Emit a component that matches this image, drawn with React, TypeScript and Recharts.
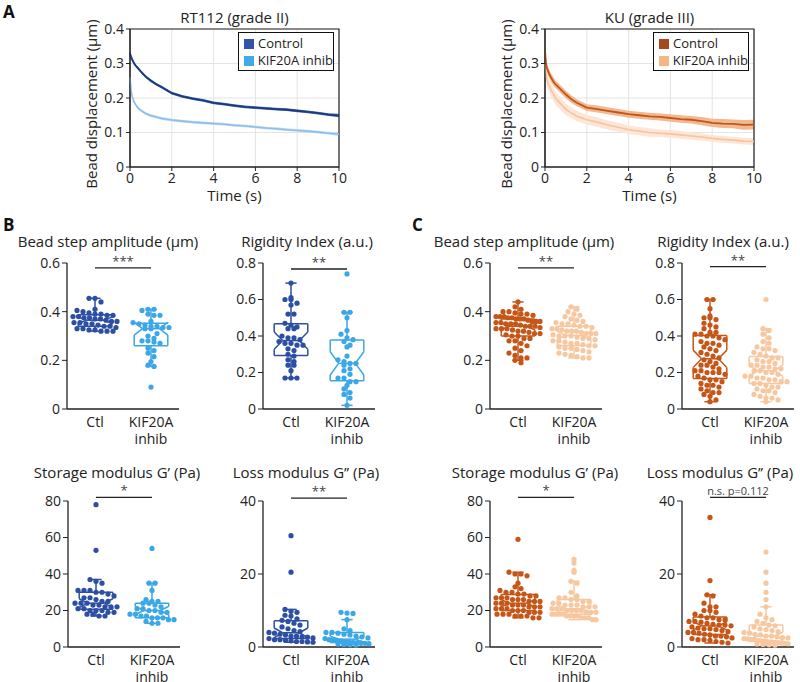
import {
  ComposedChart,
  Line,
  Area,
  XAxis,
  YAxis,
  CartesianGrid,
  ReferenceArea,
  ScatterChart,
  Scatter,
  ReferenceLine,
} from "recharts";

const FONT = "'Open Sans', sans-serif";
const INK = "#222";

// ---- panel A: bead displacement over time ----
const timeS = [0, 0.05, 0.1, 0.2, 0.3, 0.4, 0.5, 0.75, 1, 1.25, 1.5, 2, 2.5, 3, 3.5, 4, 4.5, 5, 5.5, 6, 6.5, 7, 7.5, 8, 8.5, 9, 9.5, 10];
const rt112Ctl = [0.33, 0.32, 0.312, 0.3, 0.292, 0.285, 0.278, 0.262, 0.25, 0.24, 0.232, 0.214, 0.205, 0.198, 0.193, 0.186, 0.182, 0.178, 0.174, 0.172, 0.17, 0.168, 0.166, 0.163, 0.16, 0.156, 0.152, 0.149];
const rt112Kif = [0.26, 0.225, 0.205, 0.188, 0.178, 0.17, 0.165, 0.155, 0.149, 0.145, 0.141, 0.136, 0.133, 0.13, 0.128, 0.126, 0.124, 0.121, 0.119, 0.116, 0.113, 0.111, 0.108, 0.106, 0.104, 0.101, 0.098, 0.095];
const rt112CtlErr = [0.006, 0.005, 0.005, 0.005, 0.004, 0.004, 0.004, 0.004, 0.004, 0.004, 0.004, 0.004, 0.004, 0.004, 0.004, 0.004, 0.004, 0.004, 0.004, 0.004, 0.004, 0.004, 0.004, 0.004, 0.004, 0.004, 0.004, 0.005];
const rt112KifErr = [0.006, 0.005, 0.005, 0.005, 0.004, 0.004, 0.004, 0.004, 0.004, 0.004, 0.004, 0.004, 0.004, 0.004, 0.004, 0.004, 0.004, 0.004, 0.004, 0.004, 0.004, 0.004, 0.004, 0.004, 0.004, 0.004, 0.004, 0.005];
const kuCtl = [0.335, 0.3, 0.285, 0.27, 0.258, 0.248, 0.24, 0.225, 0.21, 0.197, 0.187, 0.172, 0.168, 0.163, 0.158, 0.153, 0.15, 0.147, 0.145, 0.142, 0.139, 0.137, 0.133, 0.128, 0.126, 0.125, 0.122, 0.123];
const kuKif = [0.3, 0.27, 0.25, 0.235, 0.222, 0.212, 0.2, 0.183, 0.167, 0.157, 0.148, 0.137, 0.13, 0.122, 0.115, 0.108, 0.104, 0.1, 0.098, 0.096, 0.093, 0.09, 0.087, 0.083, 0.08, 0.078, 0.075, 0.074];
const kuCtlErr = [0.012, 0.012, 0.012, 0.012, 0.012, 0.012, 0.011, 0.011, 0.011, 0.011, 0.01, 0.01, 0.01, 0.01, 0.01, 0.01, 0.01, 0.01, 0.01, 0.011, 0.011, 0.011, 0.012, 0.012, 0.013, 0.013, 0.014, 0.014];
const kuKifErr = [0.02, 0.02, 0.02, 0.02, 0.02, 0.019, 0.019, 0.018, 0.017, 0.016, 0.015, 0.014, 0.014, 0.013, 0.013, 0.012, 0.012, 0.012, 0.011, 0.011, 0.011, 0.011, 0.01, 0.01, 0.01, 0.01, 0.01, 0.01];

// ---- panels B / C: per-cell values ----
const bStepCtl = [0.455, 0.455, 0.44, 0.41, 0.405, 0.4, 0.395, 0.39, 0.39, 0.385, 0.385, 0.38, 0.38, 0.375, 0.375, 0.37, 0.37, 0.365, 0.36, 0.36, 0.355, 0.355, 0.35, 0.35, 0.345, 0.34, 0.34, 0.335, 0.33, 0.33, 0.325, 0.325, 0.32, 0.32, 0.32];
const bStepKif = [0.41, 0.41, 0.405, 0.39, 0.385, 0.385, 0.36, 0.355, 0.35, 0.345, 0.34, 0.34, 0.335, 0.335, 0.33, 0.33, 0.31, 0.3, 0.29, 0.28, 0.28, 0.275, 0.27, 0.25, 0.24, 0.23, 0.215, 0.195, 0.18, 0.175, 0.09];
const bRigCtl = [0.69, 0.61, 0.6, 0.6, 0.58, 0.57, 0.52, 0.52, 0.47, 0.46, 0.45, 0.44, 0.44, 0.4, 0.39, 0.39, 0.38, 0.37, 0.36, 0.36, 0.35, 0.35, 0.33, 0.32, 0.3, 0.29, 0.27, 0.26, 0.24, 0.24, 0.21, 0.17, 0.17, 0.17];
const bRigKif = [0.74, 0.53, 0.53, 0.5, 0.43, 0.41, 0.39, 0.38, 0.37, 0.35, 0.34, 0.29, 0.27, 0.26, 0.25, 0.25, 0.24, 0.22, 0.21, 0.19, 0.17, 0.17, 0.15, 0.15, 0.13, 0.11, 0.09, 0.08, 0.06, 0.02];
const bStoCtl = [78, 53, 37, 36, 35, 31, 31, 31, 30, 30, 29, 28, 27, 27, 26, 25, 25, 24, 24, 24, 23, 23, 22, 22, 22, 21, 21, 20, 20, 20, 19, 19, 18, 18, 17, 17];
const bStoKif = [54, 35, 35, 31, 26, 25, 25, 24, 24, 23, 22, 21, 21, 20, 20, 19, 19, 18, 18, 17, 17, 16, 16, 16, 15, 15, 14, 13, 13];
const bLossCtl = [30.5, 20.5, 10.3, 9.8, 9.5, 8.7, 8.5, 7.7, 7.3, 7, 6.5, 6, 5.5, 5, 4.5, 4.2, 4, 3.8, 3.5, 3.3, 3, 3, 2.8, 2.7, 2.5, 2.3, 2, 2, 1.8, 1.7, 1.5, 1.5, 1.4, 1.3];
const bLossKif = [9.5, 9.3, 9.2, 7.5, 5, 4.5, 4, 4, 3.8, 3.5, 3.3, 3, 2.8, 2.5, 2.3, 2, 2, 1.8, 1.6, 1.5, 1.4, 1.3, 1.2, 1, 1, 0.9, 0.8, 0.7, 0.6, 0.5];

const cStepCtl = [0.44, 0.42, 0.41, 0.4, 0.4, 0.395, 0.39, 0.39, 0.385, 0.38, 0.38, 0.38, 0.375, 0.375, 0.37, 0.37, 0.37, 0.365, 0.36, 0.36, 0.36, 0.355, 0.355, 0.35, 0.35, 0.35, 0.345, 0.34, 0.34, 0.34, 0.335, 0.33, 0.33, 0.33, 0.325, 0.32, 0.32, 0.315, 0.31, 0.31, 0.305, 0.3, 0.3, 0.29, 0.29, 0.28, 0.28, 0.27, 0.26, 0.25, 0.24, 0.23, 0.22, 0.21, 0.21, 0.2, 0.19];
const cStepKif = [0.42, 0.41, 0.4, 0.39, 0.385, 0.38, 0.37, 0.365, 0.36, 0.355, 0.35, 0.35, 0.345, 0.34, 0.34, 0.335, 0.33, 0.33, 0.325, 0.32, 0.32, 0.32, 0.315, 0.31, 0.31, 0.31, 0.305, 0.3, 0.3, 0.3, 0.295, 0.29, 0.29, 0.285, 0.28, 0.28, 0.275, 0.27, 0.27, 0.265, 0.26, 0.26, 0.255, 0.25, 0.25, 0.245, 0.24, 0.235, 0.23, 0.225, 0.22, 0.215, 0.21, 0.21];
const cRigCtl = [0.6, 0.6, 0.55, 0.51, 0.5, 0.5, 0.49, 0.47, 0.46, 0.45, 0.44, 0.42, 0.42, 0.41, 0.41, 0.4, 0.4, 0.39, 0.38, 0.37, 0.36, 0.36, 0.35, 0.34, 0.33, 0.32, 0.31, 0.3, 0.29, 0.28, 0.27, 0.26, 0.25, 0.24, 0.24, 0.23, 0.22, 0.21, 0.21, 0.2, 0.2, 0.2, 0.19, 0.18, 0.17, 0.16, 0.16, 0.15, 0.14, 0.13, 0.13, 0.12, 0.11, 0.1, 0.09, 0.09, 0.08, 0.07, 0.05, 0.04];
const cRigKif = [0.6, 0.44, 0.43, 0.41, 0.39, 0.37, 0.36, 0.34, 0.33, 0.33, 0.32, 0.31, 0.3, 0.29, 0.28, 0.28, 0.27, 0.26, 0.26, 0.25, 0.24, 0.24, 0.23, 0.23, 0.22, 0.22, 0.21, 0.21, 0.2, 0.2, 0.19, 0.18, 0.18, 0.17, 0.17, 0.16, 0.16, 0.15, 0.15, 0.14, 0.14, 0.13, 0.12, 0.12, 0.11, 0.1, 0.1, 0.09, 0.08, 0.07, 0.06, 0.06, 0.05, 0.04];
const cStoCtl = [59, 41, 40, 40, 39, 35, 33, 32, 31, 30, 30, 29, 29, 28, 28, 27, 27, 27, 26, 26, 26, 25, 25, 25, 24, 24, 24, 23, 23, 23, 22, 22, 22, 21, 21, 21, 20, 20, 20, 19, 19, 19, 18, 18, 18, 17, 17, 17, 16, 16];
const cStoKif = [48, 46, 42, 41, 36, 35, 30, 28, 27, 27, 26, 26, 25, 25, 24, 24, 23, 23, 23, 22, 22, 22, 21, 21, 21, 20, 20, 20, 20, 19, 19, 19, 18, 18, 18, 18, 17, 17, 17, 17, 16, 16, 16, 15, 15];
const cLossCtl = [35.5, 18.2, 14.3, 14, 12, 11, 11, 10, 10, 9.5, 9, 8.5, 8, 8, 7.5, 7.5, 7, 7, 6.8, 6.5, 6.2, 6, 6, 5.8, 5.5, 5.2, 5, 5, 4.8, 4.5, 4.2, 4, 4, 3.8, 3.5, 3.3, 3, 3, 2.8, 2.5, 2.3, 2, 2, 1.8, 1.5, 1.3, 1.1];
const cLossKif = [26, 20.5, 17.5, 15, 13, 11, 9, 8, 7.5, 7, 6.5, 6, 5.8, 5.5, 5, 4.8, 4.5, 4.2, 4, 3.8, 3.5, 3.3, 3, 3, 2.8, 2.6, 2.5, 2.3, 2.2, 2, 2, 1.8, 1.7, 1.6, 1.5, 1.4, 1.3, 1.2, 1.1, 1, 0.9, 0.8, 0.7, 0.6, 0.5];

const BLUE = { ctl: "#2c4fa3", kif: "#3ba7e6" };
const ORANGE = { ctl: "#c65618", kif: "#f7c8a0" };

const PLOT_H = 146;
const PLOT_W = 112;
const Y_W = 40;
const X_H = 42;
const PX_PER_UNIT = PLOT_W / 4;

function quantile(sorted: number[], p: number) {
  const pos = (sorted.length - 1) * p;
  const lo = Math.floor(pos);
  const hi = Math.ceil(pos);
  return sorted[lo] + (sorted[hi] - sorted[lo]) * (pos - lo);
}

// swarm layout: points sharing a y-bin are spread sideways, capped in width
function swarm(vals: number[], cx: number, yMax: number) {
  const binSize = (yMax * 6) / PLOT_H;
  const step = 6 / PX_PER_UNIT;
  const maxHalf = 22 / PX_PER_UNIT;
  const binOf = vals.map((v) => Math.round(v / binSize));
  const counts = new Map<number, number>();
  binOf.forEach((b) => counts.set(b, (counts.get(b) ?? 0) + 1));
  const seen = new Map<number, number>();
  return vals.map((v, i) => {
    const b = binOf[i];
    const n = counts.get(b) ?? 1;
    const j = seen.get(b) ?? 0;
    seen.set(b, j + 1);
    const s = n > 1 ? Math.min(step, (2 * maxHalf) / (n - 1)) : 0;
    const off = (j - (n - 1) / 2) * s;
    return { x: cx + off, y: v };
  });
}

function boxLines(vals: number[], cx: number, color: string, key: string) {
  const s = [...vals].sort((a, b) => a - b);
  const q1 = quantile(s, 0.25);
  const med = quantile(s, 0.5);
  const q3 = quantile(s, 0.75);
  const iqr = q3 - q1;
  const hiAdj = Math.max(...s.filter((v) => v <= q3 + 1.5 * iqr));
  const loAdj = Math.min(...s.filter((v) => v >= q1 - 1.5 * iqr));
  const nHi = med + (1.57 * iqr) / Math.sqrt(s.length);
  const nLo = med - (1.57 * iqr) / Math.sqrt(s.length);
  const w = 0.6;
  const segs: [number, number, number, number][] = [
    [cx - w, q3, cx + w, q3],
    [cx - w, q1, cx + w, q1],
    [cx + w, q3, cx + w, nHi],
    [cx + w, nHi, cx + w / 2, med],
    [cx + w / 2, med, cx + w, nLo],
    [cx + w, nLo, cx + w, q1],
    [cx - w, q3, cx - w, nHi],
    [cx - w, nHi, cx - w / 2, med],
    [cx - w / 2, med, cx - w, nLo],
    [cx - w, nLo, cx - w, q1],
    [cx - w / 2, med, cx + w / 2, med],
    [cx, q3, cx, hiAdj],
    [cx, q1, cx, loAdj],
    [cx - 0.2, hiAdj, cx + 0.2, hiAdj],
    [cx - 0.2, loAdj, cx + 0.2, loAdj],
  ];
  return segs.map((g, i) => (
    <ReferenceLine
      key={`${key}-${i}`}
      segment={[
        { x: g[0], y: g[1] },
        { x: g[2], y: g[3] },
      ]}
      stroke={color}
      strokeWidth={1.5}
      ifOverflow="visible"
    />
  ));
}

const XTick = (props: any) => {
  const { x, y, payload } = props;
  if (payload.value === 1)
    return (
      <text x={x} y={y + 10} textAnchor="middle" fontSize={14} fill={INK} fontFamily={FONT}>
        Ctl
      </text>
    );
  return (
    <text x={x} y={y + 10} textAnchor="middle" fontSize={14} fill={INK} fontFamily={FONT}>
      <tspan x={x}>KIF20A</tspan>
      <tspan x={x} dy={17}>inhib</tspan>
    </text>
  );
};

type DotPanel = {
  axisX: number;
  plotTop: number;
  yMax: number;
  ticks: number[];
  ctl: number[];
  kif: number[];
  colors: { ctl: string; kif: string };
  title: string;
  titleCx: number;
  titleTop: number;
  sig: string;
  sigY: number;
};

function DotBox({ p }: { p: DotPanel }) {
  const top = 16;
  const fmt = (v: number) => (v === 0 ? "0" : p.yMax < 1 ? v.toFixed(1) : String(v));
  return (
    <>
      <div
        style={{
          position: "absolute",
          left: p.titleCx - 150,
          width: 300,
          top: p.titleTop,
          textAlign: "center",
          fontSize: 15,
          fontFamily: FONT,
          color: INK,
          whiteSpace: "nowrap",
        }}
      >
        {p.title}
      </div>
      <div style={{ position: "absolute", left: p.axisX - Y_W, top: p.plotTop - top }}>
        <ScatterChart
          width={Y_W + PLOT_W + 4}
          height={top + PLOT_H + X_H}
          margin={{ top, right: 4, bottom: 0, left: 0 }}
        >
          <XAxis
            type="number"
            dataKey="x"
            domain={[0, 4]}
            ticks={[1, 3]}
            height={X_H}
            tickLine={false}
            axisLine={{ stroke: INK, strokeWidth: 1.3 }}
            tick={<XTick />}
            interval={0}
          />
          <YAxis
            type="number"
            dataKey="y"
            domain={[0, p.yMax]}
            ticks={p.ticks}
            width={Y_W}
            tickSize={5}
            tickFormatter={fmt}
            axisLine={{ stroke: INK, strokeWidth: 1.3 }}
            tickLine={{ stroke: INK }}
            tick={{ fontSize: 14, fill: INK, fontFamily: FONT }}
            interval={0}
          />
          <Scatter
            data={swarm(p.ctl, 1, p.yMax)}
            fill={p.colors.ctl}
            shape={(s: any) => <circle cx={s.cx} cy={s.cy} r={2.6} fill={p.colors.ctl} />}
            isAnimationActive={false}
          />
          <Scatter
            data={swarm(p.kif, 3, p.yMax)}
            fill={p.colors.kif}
            shape={(s: any) => <circle cx={s.cx} cy={s.cy} r={2.6} fill={p.colors.kif} />}
            isAnimationActive={false}
          />
          {boxLines(p.ctl, 1, p.colors.ctl, "c")}
          {boxLines(p.kif, 3, p.colors.kif, "k")}
          <ReferenceLine
            segment={[
              { x: 1, y: p.sigY },
              { x: 3, y: p.sigY },
            ]}
            stroke={INK}
            strokeWidth={1.3}
            ifOverflow="visible"
            label={{ value: p.sig, position: "top", offset: 2, fontSize: p.sig.length > 3 ? 11 : 13, fill: "#444", fontFamily: FONT }}
          />
        </ScatterChart>
      </div>
    </>
  );
}

const dotPanels: DotPanel[] = [
  { axisX: 67, plotTop: 263, yMax: 0.6, ticks: [0, 0.2, 0.4, 0.6], ctl: bStepCtl, kif: bStepKif, colors: BLUE, title: "Bead step amplitude (µm)", titleCx: 108, titleTop: 231, sig: "***", sigY: 0.58 },
  { axisX: 263, plotTop: 263, yMax: 0.8, ticks: [0, 0.2, 0.4, 0.6, 0.8], ctl: bRigCtl, kif: bRigKif, colors: BLUE, title: "Rigidity Index (a.u.)", titleCx: 307, titleTop: 231, sig: "**", sigY: 0.767 },
  { axisX: 490, plotTop: 263, yMax: 0.6, ticks: [0, 0.2, 0.4, 0.6], ctl: cStepCtl, kif: cStepKif, colors: ORANGE, title: "Bead step amplitude (µm)", titleCx: 524, titleTop: 231, sig: "**", sigY: 0.58 },
  { axisX: 682, plotTop: 263, yMax: 0.8, ticks: [0, 0.2, 0.4, 0.6, 0.8], ctl: cRigCtl, kif: cRigKif, colors: ORANGE, title: "Rigidity Index (a.u.)", titleCx: 723, titleTop: 231, sig: "**", sigY: 0.78 },
  { axisX: 68, plotTop: 501, yMax: 80, ticks: [0, 20, 40, 60, 80], ctl: bStoCtl, kif: bStoKif, colors: BLUE, title: "Storage modulus G’ (Pa)", titleCx: 117, titleTop: 462, sig: "*", sigY: 82 },
  { axisX: 263, plotTop: 501, yMax: 40, ticks: [0, 20, 40], ctl: bLossCtl, kif: bLossKif, colors: BLUE, title: "Loss modulus G’’ (Pa)", titleCx: 306, titleTop: 462, sig: "**", sigY: 40.8 },
  { axisX: 490, plotTop: 501, yMax: 80, ticks: [0, 20, 40, 60, 80], ctl: cStoCtl, kif: cStoKif, colors: ORANGE, title: "Storage modulus G’ (Pa)", titleCx: 535, titleTop: 462, sig: "*", sigY: 82 },
  { axisX: 682, plotTop: 501, yMax: 40, ticks: [0, 20, 40], ctl: cLossCtl, kif: cLossKif, colors: ORANGE, title: "Loss modulus G’’ (Pa)", titleCx: 720, titleTop: 462, sig: "n.s. p=0.112", sigY: 41 },
];

type TimePanel = {
  left: number;
  title: string;
  ctl: number[];
  kif: number[];
  ctlErr: number[];
  kifErr: number[];
  ctlLine: string;
  ctlBand: string;
  kifLine: string;
  kifBand: string;
  ctlKey: string;
  kifKey: string;
};

function TimeChart({ p }: { p: TimePanel }) {
  const rows = timeS.map((t, i) => ({
    t,
    c: p.ctl[i],
    k: p.kif[i],
    cb: [p.ctl[i] - p.ctlErr[i], p.ctl[i] + p.ctlErr[i]],
    kb: [p.kif[i] - p.kifErr[i], p.kif[i] + p.kifErr[i]],
  }));
  const plotL = p.left;
  const plotW = 209;
  const right = 14;
  return (
    <>
      <div style={{ position: "absolute", left: plotL, width: plotW, top: 7, textAlign: "center", fontSize: 15, fontFamily: FONT, color: INK }}>
        {p.title}
      </div>
      <svg style={{ position: "absolute", left: plotL - 50, top: 14 }} width={24} height={180}>
        <text
          x={0}
          y={0}
          transform={`translate(17, 90) rotate(-90)`}
          textAnchor="middle"
          fontSize={15}
          fontFamily={FONT}
          fill={INK}
        >
          Bead displacement (µm)
        </text>
      </svg>
      <div style={{ position: "absolute", left: plotL, width: plotW, top: 186, textAlign: "center", fontSize: 15, lineHeight: "18px", fontFamily: FONT, color: INK }}>
        Time (s)
      </div>
      <div style={{ position: "absolute", left: plotL - 40, top: 24 }}>
        <ComposedChart width={40 + plotW + right} height={5 + 138 + 22} data={rows} margin={{ top: 5, right, bottom: 0, left: 0 }}>
          <CartesianGrid stroke="#e4e4e4" />
          <XAxis
            dataKey="t"
            type="number"
            domain={[0, 10]}
            ticks={[0, 2, 4, 6, 8, 10]}
            height={22}
            tickSize={4}
            axisLine={{ stroke: INK }}
            tickLine={{ stroke: INK }}
            tick={{ fontSize: 14, fill: INK, fontFamily: FONT }}
            interval={0}
          />
          <YAxis
            type="number"
            domain={[0, 0.4]}
            ticks={[0, 0.1, 0.2, 0.3, 0.4]}
            width={40}
            tickSize={4}
            tickFormatter={(v: number) => (v === 0 ? "0" : v.toFixed(1))}
            axisLine={{ stroke: INK }}
            tickLine={{ stroke: INK }}
            tick={{ fontSize: 14, fill: INK, fontFamily: FONT }}
            interval={0}
          />
          <Area dataKey="kb" type="linear" stroke="none" fill={p.kifBand} fillOpacity={1} isAnimationActive={false} />
          <Line dataKey="k" type="linear" stroke={p.kifLine} strokeWidth={1.6} dot={false} isAnimationActive={false} />
          <Area dataKey="cb" type="linear" stroke="none" fill={p.ctlBand} fillOpacity={1} isAnimationActive={false} />
          <Line dataKey="c" type="linear" stroke={p.ctlLine} strokeWidth={1.8} dot={false} isAnimationActive={false} />
          <ReferenceArea x1={0} x2={10} y1={0} y2={0.4} fill="none" stroke={INK} strokeWidth={1.2} ifOverflow="visible" />
        </ComposedChart>
      </div>
      <div
        style={{
          position: "absolute",
          left: plotL + 108,
          top: 32,
          width: 96,
          height: 39,
          border: "1px solid #111",
          background: "#fff",
          fontFamily: FONT,
          fontSize: 13,
          color: INK,
          boxSizing: "border-box",
          padding: "2px 0 0 5px",
          lineHeight: "17px",
        }}
      >
        <div style={{ display: "flex", alignItems: "center" }}>
          <span style={{ width: 10, height: 10, background: p.ctlKey, marginRight: 4, display: "inline-block" }} />
          Control
        </div>
        <div style={{ display: "flex", alignItems: "center", whiteSpace: "nowrap" }}>
          <span style={{ width: 10, height: 10, background: p.kifKey, marginRight: 4, display: "inline-block" }} />
          KIF20A inhib
        </div>
      </div>
    </>
  );
}

const timePanels: TimePanel[] = [
  { left: 130, title: "RT112 (grade II)", ctl: rt112Ctl, kif: rt112Kif, ctlErr: rt112CtlErr, kifErr: rt112KifErr, ctlLine: "#1b3a7a", ctlBand: "#4f73b8", kifLine: "#8fbfe9", kifBand: "#c4ddf4", ctlKey: "#2e55a6", kifKey: "#41a9e6" },
  { left: 545, title: "KU (grade III)", ctl: kuCtl, kif: kuKif, ctlErr: kuCtlErr, kifErr: kuKifErr, ctlLine: "#c0561a", ctlBand: "#f2b88f", kifLine: "#f6c4a0", kifBand: "#fde6d6", ctlKey: "#a6481a", kifKey: "#f4b784" },
];

const panelLabel = (text: string, left: number, top: number) => (
  <div style={{ position: "absolute", left, top, fontFamily: FONT, fontWeight: 700, fontSize: 17, color: "#111" }}>{text}</div>
);

export default function App() {
  return (
    <div style={{ position: "absolute", left: 0, top: 0, width: 800, height: 682, background: "#fff", overflow: "hidden" }}>
      {panelLabel("A", 3, 0)}
      {panelLabel("B", 3, 213)}
      {panelLabel("C", 412, 213)}
      {timePanels.map((p) => (
        <TimeChart key={p.title} p={p} />
      ))}
      {dotPanels.map((p, i) => (
        <DotBox key={i} p={p} />
      ))}
    </div>
  );
}
